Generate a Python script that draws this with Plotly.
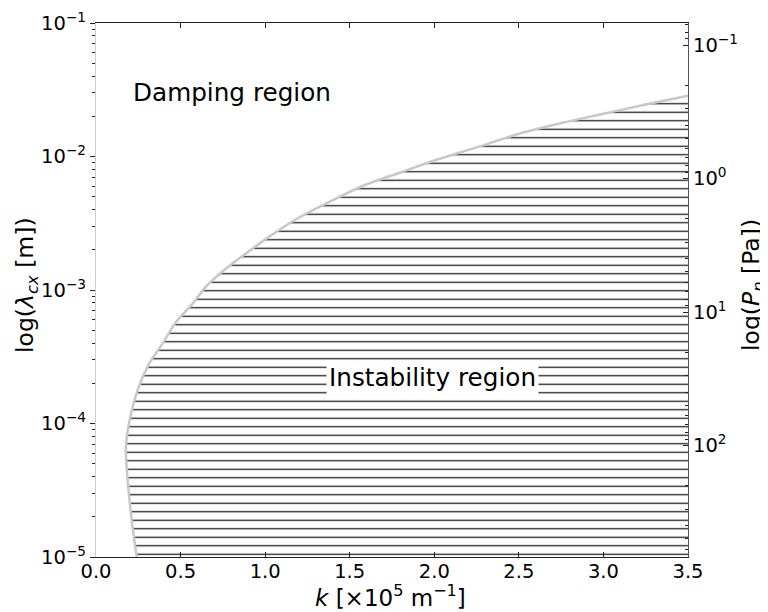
import numpy as np
import plotly.graph_objects as go

# Boundary curve between damping and instability regions
k_boundary = [0.241, 0.211, 0.187, 0.177, 0.195, 0.246, 0.315, 0.394, 0.473,
              0.572, 0.650, 0.769, 0.887, 1.024, 1.183, 1.379, 1.597, 1.80,
              2.00, 2.25, 2.50, 2.75, 3.00, 3.25, 3.50]
lam_boundary = [1.00e-5, 1.90e-5, 3.80e-5, 6.60e-5, 1.00e-4, 1.78e-4, 2.82e-4,
                3.98e-4, 5.75e-4, 7.94e-4, 1.06e-3, 1.45e-3, 1.88e-3, 2.51e-3,
                3.39e-3, 4.57e-3, 6.17e-3, 7.59e-3, 9.33e-3, 1.17e-2, 1.48e-2,
                1.78e-2, 2.09e-2, 2.45e-2, 2.85e-2]

x_range = [0.0, 3.5]
lam_range = [1e-5, 1e-1]
# P_n * lambda_cx = const
P_lambda_const = 6.84e-3
x_ticks = [0.0, 0.5, 1.0, 1.5, 2.0, 2.5, 3.0, 3.5]
lam_ticks = [1e-5, 1e-4, 1e-3, 1e-2, 1e-1]
P_ticks = [0.1, 1, 10, 100]

labels = {"damping": "Damping region", "instability": "Instability region"}
axis_titles = {
    "x": "<i>k</i> [×10<sup>5</sup> m<sup>−1</sup>]",
    "y": "log(<i>λ</i><sub><i>cx</i></sub> [m])",
    "y2": "log(<i>P</i><sub><i>n</i></sub> [Pa])",
}

FONT = "DejaVu Sans"
TICK = 19.5
TXT = 24.7


def pow_label(v):
    p = int(round(np.log10(v)))
    s = ("−" if p < 0 else "") + str(abs(p))
    return f"10<sup>{s}</sup>"


fig = go.Figure()

# baseline along the bottom edge, from the curve foot to the right edge
fig.add_trace(go.Scatter(
    x=[k_boundary[0], x_range[1]], y=[lam_range[0], lam_range[0]],
    mode="lines", line=dict(width=0, color="rgba(0,0,0,0)"),
    hoverinfo="skip", showlegend=False))

# boundary curve, hatched instability region between it and the baseline
fig.add_trace(go.Scatter(
    x=k_boundary, y=lam_boundary, mode="lines", fill="tonexty",
    line=dict(color="#c8c8c8", width=2.5, shape="spline", smoothing=1.0),
    fillcolor="rgba(0,0,0,0)",
    fillpattern=dict(shape="-", size=8.5, solidity=0.15, fgcolor="#1a1a1a",
                     bgcolor="white", fillmode="replace"),
    hoverinfo="skip", showlegend=False))

# invisible trace to activate the pressure axis
P_range = [P_lambda_const / lam_range[0], P_lambda_const / lam_range[1]]
fig.add_trace(go.Scatter(
    x=[1.0], y=[1.0], yaxis="y2", mode="markers",
    marker=dict(opacity=0), hoverinfo="skip", showlegend=False))

fig.add_annotation(x=0.207, y=np.log10(0.0304), text=labels["damping"],
                   showarrow=False, xanchor="left", yanchor="middle",
                   font=dict(family=FONT, size=TXT, color="black"))
fig.add_annotation(x=1.99, y=np.log10(2.23e-4), text=labels["instability"],
                   showarrow=False, xanchor="center", yanchor="middle",
                   bgcolor="white", borderpad=2,
                   font=dict(family=FONT, size=TXT, color="black"))

# axis titles as annotations (exact placement)
fig.add_annotation(xref="paper", yref="paper", x=0.497, y=0, yshift=-39,
                   text=axis_titles["x"], showarrow=False,
                   xanchor="center", yanchor="middle",
                   font=dict(family=FONT, size=23, color="black"))
fig.add_annotation(xref="paper", yref="paper", x=0, y=0.5, xshift=-70, yshift=5,
                   text=axis_titles["y"], showarrow=False, textangle=-90,
                   xanchor="center", yanchor="middle",
                   font=dict(family=FONT, size=23.5, color="black"))
fig.add_annotation(xref="paper", yref="paper", x=1, y=0.5, xshift=64, yshift=5,
                   text=axis_titles["y2"], showarrow=False, textangle=-90,
                   xanchor="center", yanchor="middle",
                   font=dict(family=FONT, size=23.5, color="black"))

# the page body has an 8px margin: figure is 8px smaller, margins shifted
fig.update_layout(
    width=760, height=604,
    margin=dict(l=88, r=80, t=15, b=55, autoexpand=False),
    paper_bgcolor="white", plot_bgcolor="white",
    font=dict(family=FONT, color="black"),
    xaxis=dict(
        range=x_range, tickvals=x_ticks, ticktext=[f"{v:.1f}" for v in x_ticks],
        ticks="inside", ticklen=5, tickcolor="#222", tickwidth=1,
        showline=True, linecolor="#222", linewidth=1.2, mirror="ticks",
        showgrid=False, zeroline=False, automargin=False,
        ticklabelstandoff=-4,
        tickfont=dict(family=FONT, size=TICK),
    ),
    yaxis=dict(
        type="log", range=[np.log10(lam_range[0]), np.log10(lam_range[1])],
        tickvals=lam_ticks, ticktext=[pow_label(v) for v in lam_ticks],
        ticks="outside", ticklen=5, tickcolor="#222", tickwidth=1,
        minor=dict(ticks="outside", ticklen=3, tickcolor="#222", dtick="D1", showgrid=False),
        showline=True, linecolor="#cccccc", linewidth=1.2,
        showgrid=False, zeroline=False, automargin=False,
        tickfont=dict(family=FONT, size=TICK),
    ),
    yaxis2=dict(
        type="log", overlaying="y", side="right",
        range=[np.log10(P_range[0]), np.log10(P_range[1])],
        tickvals=P_ticks, ticktext=[pow_label(v) for v in P_ticks],
        ticks="inside", ticklen=5, tickcolor="#222", tickwidth=1,
        minor=dict(ticks="inside", ticklen=3, tickcolor="#222", dtick="D1", showgrid=False),
        showline=True, linecolor="#555", linewidth=1.2,
        showgrid=False, zeroline=False, automargin=False,
        tickfont=dict(family=FONT, size=TICK),
    ),
)

fig.write_html("out.html")
